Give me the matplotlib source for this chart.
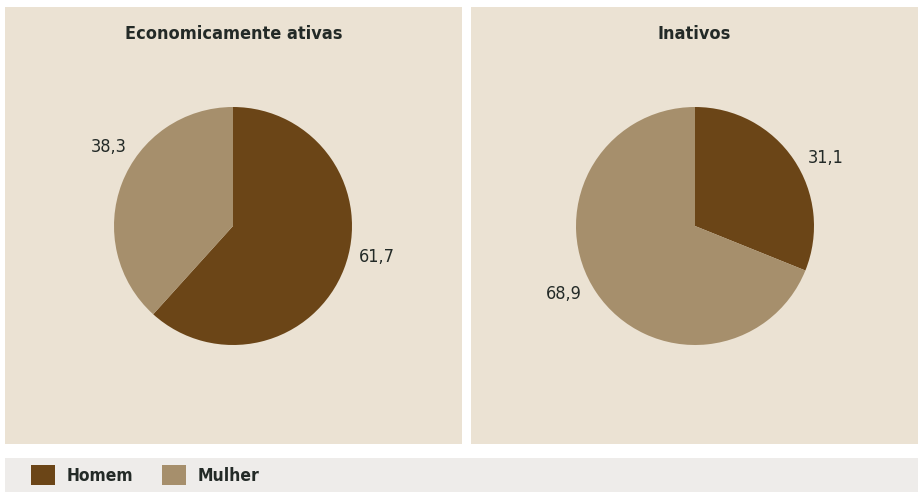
import matplotlib.pyplot as plt
from matplotlib.patches import Patch
import numpy as np

# share of each group, in percent (Homem, Mulher)
titles = ['Economicamente ativas', 'Inativos']
homem = [61.7, 31.1]
mulher = [38.3, 68.9]
categories = ['Homem', 'Mulher']

colors = ['#6b4517', '#a68f6c']
panel_bg = '#ebe2d3'
legend_bg = '#eeecea'
text_color = '#232a27'

plt.rcParams['font.family'] = ['DejaVu Sans']
plt.rcParams['font.stretch'] = 'condensed'

W, H = 918, 492
fig = plt.figure(figsize=(W / 100, H / 100), dpi=100)
fig.patch.set_facecolor('white')

def px_box(x0, y0, x1, y1):
    # pixel box (top-left origin) -> figure fraction rect
    return [x0 / W, 1 - y1 / H, (x1 - x0) / W, (y1 - y0) / H]

# panel boxes and pie centres in pixels
panels = [(5, 7, 462, 444), (471, 7, 918, 444)]
centres = [(233, 226), (695, 226)]
radius = 119
# label angle (deg) for each wedge and its distance from the centre
label_angles = [[-12.3, 147.7], [27.6, 207.4]]
label_dist = 1.24

for i in range(2):
    bg = fig.add_axes(px_box(*panels[i]))
    bg.set_facecolor(panel_bg)
    bg.set_xticks([])
    bg.set_yticks([])
    for s in bg.spines.values():
        s.set_visible(False)
    bg.text(0.5, 1 - 27 / (panels[i][3] - panels[i][1]), titles[i],
            transform=bg.transAxes, ha='center', va='center',
            fontsize=13, fontweight='bold', fontstretch='condensed',
            color=text_color)

    cx, cy = centres[i]
    ax = fig.add_axes(px_box(cx - radius, cy - radius, cx + radius, cy + radius))
    ax.set_facecolor('none')
    vals = [homem[i], mulher[i]]
    ax.pie(vals, colors=colors, startangle=90, counterclock=False, radius=1,
           wedgeprops=dict(linewidth=0))
    ax.set_xlim(-1, 1)
    ax.set_ylim(-1, 1)
    ax.set_aspect('equal')
    ax.axis('off')
    for v, a in zip(vals, label_angles[i]):
        t = np.deg2rad(a)
        ax.text(label_dist * np.cos(t), label_dist * np.sin(t),
                ('%.1f' % v).replace('.', ','),
                ha='center', va='center', fontsize=13,
                fontstretch='condensed', color=text_color, clip_on=False)

# legend bar
lax = fig.add_axes(px_box(5, 458, 918, 492))
lax.set_facecolor(legend_bg)
lax.set_xticks([])
lax.set_yticks([])
for s in lax.spines.values():
    s.set_visible(False)
handles = [Patch(facecolor=c, edgecolor='none') for c in colors]
leg = lax.legend(handles, categories, loc='center left',
                 bbox_to_anchor=(26 / 913, 0.5), ncol=2, frameon=False,
                 borderaxespad=0, borderpad=0,
                 handlelength=1.4, handleheight=1.45, handletextpad=0.65,
                 columnspacing=1.65,
                 prop=dict(size=12.5, weight='bold', stretch='condensed'))
for t in leg.get_texts():
    t.set_color(text_color)

fig.savefig('out.png', dpi=100, facecolor=fig.get_facecolor())
